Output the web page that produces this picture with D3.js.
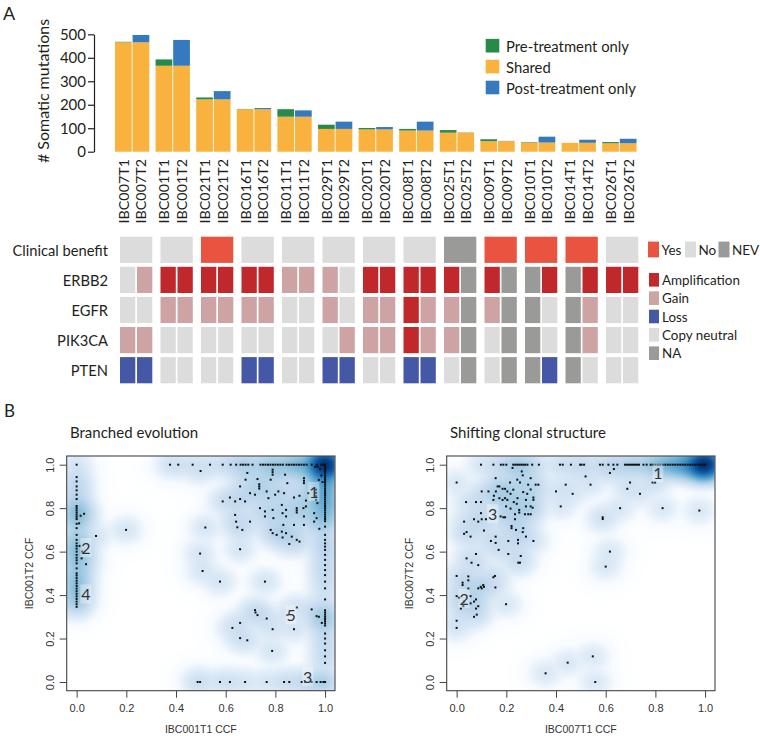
<!DOCTYPE html>
<html><head><meta charset="utf-8">
<script src="https://cdn.jsdelivr.net/npm/d3@7"></script>
<style>body{margin:0;background:#fff}svg{display:block}</style>
</head><body>
<svg id="chart" width="760" height="736"></svg>
<script>
// ---------------- DATA ----------------
const groups = ["IBC007","IBC001","IBC021","IBC016","IBC011","IBC029","IBC020","IBC008","IBC025","IBC009","IBC010","IBC014","IBC026"];
const timepoints = ["T1","T2"];
const sharedCounts   = [466,366,223,181,149,97,95,90,81,45,39,38,36];
const preOnlyCounts  = [2,27,8,1,32,18,6,7,11,8,2,0,5];
const postOnlyCounts = [31,110,35,5,27,31,10,38,1,1,25,13,19];
const yTicks = [0,100,200,300,400,500];
const barSeries = ["Pre-treatment only","Shared","Post-treatment only"];
const barColors = ["#27894a","#f8b23d","#3579bf"];

const rowNames = ["Clinical benefit","ERBB2","EGFR","PIK3CA","PTEN"];
const clinicalBenefit = ["No","No","Yes","No","No","No","No","No","NEV","Yes","Yes","Yes","No"];
const erbb2  = ["Neutral","Gain","Amp","Amp","Amp","Amp","Amp","Amp","Gain","Gain","Gain","Neutral","Amp","Amp","Amp","Amp","Amp","NA","Amp","NA","NA","Amp","NA","Amp","Amp","Amp"];
const egfr   = ["Neutral","Neutral","Gain","Gain","Gain","Gain","Gain","Gain","Neutral","Neutral","Gain","Neutral","Gain","Gain","Amp","Gain","Gain","NA","Gain","NA","NA","Neutral","NA","Gain","Neutral","Neutral"];
const pik3ca = ["Gain","Gain","Neutral","Neutral","Neutral","Neutral","Neutral","Neutral","Neutral","Neutral","Neutral","Gain","Gain","Gain","Amp","Gain","Gain","NA","Neutral","NA","NA","Neutral","NA","Gain","Neutral","Neutral"];
const pten   = ["Loss","Loss","Neutral","Neutral","Neutral","Neutral","Loss","Loss","Neutral","Neutral","Loss","Loss","Neutral","Neutral","Loss","Loss","Neutral","NA","Neutral","NA","NA","Loss","NA","Neutral","Neutral","Neutral"];
const benefitKeys = ["Yes","No","NEV"];
const benefitColors = ["#e8543f","#dcdcdc","#9a9a98"];
const cnKeys = ["Amp","Gain","Loss","Neutral","NA"];
const cnLabels = ["Amplification","Gain","Loss","Copy neutral","NA"];
const cnColors = ["#c0282b","#cea3a4","#4458a6","#dcdcdc","#9a9a98"];

// Panel B: [x CCF, y CCF, (overlapping mutations)]
const branchedPoints = [
[0,1],[0.376,1],[0.409,1],[0.467,1],[0.537,1],[0.588,1],[0.62,1],[0.642,1],[0.66,1],[0.67,1],[0.68,1],[0.691,1],[0.708,1],
[0.74,1],[0.75,1],[0.76,1],[0.77,1],[0.78,1],[0.79,1],[0.8,1],[0.81,1],[0.82,1],[0.83,1],[0.845,1],[0.855,1,2],[0.865,1,2],[0.875,1,2],[0.885,1,2],[0.895,1,2],[0.905,1,3],[0.915,1,3],[0.926,1,3],[0.946,1,4],[0.966,1,5],[0.985,1,6],[0.993,1,8],[1,1,200],
[0,0.943],[0,0.923],[0,0.9],[0,0.882],[0,0.862],[0,0.842],[0,0.81,2],[0,0.8,2],[0,0.79,2],[0,0.78,2],[0,0.77,2],[0,0.76,2],[0,0.75,2],[0,0.728],[0,0.708],[0,0.677,2],[0,0.654,2],[0,0.638,2],[0,0.626,2],[0,0.614,2],[0,0.6,2],[0,0.585,2],[0,0.572,2],[0,0.56,2],[0,0.546,2],[0,0.523,2],[0,0.5,2],[0,0.49,2],[0,0.478,2],[0,0.466,2],[0,0.454,2],[0,0.442,2],[0,0.43,2],[0,0.418,2],[0,0.406,2],[0,0.394,2],[0,0.382,2],[0,0.37,2],[0,0.358],[0,0.346],
[0.016,0.765],[0.03,0.774],[0.078,0.672],[0.199,0.7],[0.01,0.73],[0.012,0.626],[0.02,0.569],[0.038,0.542],[0.022,0.6],
[0.499,0.971],[0.588,0.831],[0.497,0.591],[0.507,0.511],[0.518,0.711],[0.577,0.462],[0.658,0.611],[0.758,0.462],
[0.617,0.849],[0.638,0.831],[0.638,0.769],[0.642,0.738],[0.647,0.712],[0.658,0.842],[0.658,0.9],[0.667,0.7],[0.678,0.831],[0.68,0.931],[0.687,0.962],[0.698,0.869],[0.698,0.738],[0.718,0.862],[0.728,0.934],[0.735,0.91],[0.735,0.9],[0.735,0.89],[0.738,0.8],[0.758,0.785],[0.758,0.762],[0.765,0.877],[0.772,0.846],[0.781,0.931],[0.781,0.7],[0.789,0.685],[0.789,0.792],[0.792,0.754],[0.799,0.862],[0.789,0.977],[0.789,0.966],[0.789,0.954],[0.805,0.677],[0.812,0.877],[0.826,0.815],[0.829,0.777],[0.826,0.692],[0.829,0.665],[0.832,0.723],[0.835,0.869],[0.839,0.954],[0.843,0.685],[0.843,0.792],[0.843,0.762],[0.856,0.635],[0.848,0.915],[0.866,0.669],[0.875,0.723],[0.875,0.849],[0.886,0.8],[0.886,0.79],[0.886,0.78],[0.886,0.654],[0.897,0.857],[0.897,0.646],[0.915,0.938],[0.915,0.926],[0.915,0.915],[0.913,0.8],[0.915,0.723],[0.923,0.835],[0.923,0.808],[0.933,0.869],[0.915,0.762],[0.956,0.777],[0.956,0.738],[0.966,0.754],[0.969,0.823],[0.964,0.885],[0.964,0.87],[0.964,0.855],[0.964,0.838],[0.977,0.705],[0.96,0.99],[0.97,0.99],[0.98,0.98],[0.985,0.95],[0.975,0.93],[0.99,0.92],
[1,0.99,8],[1,0.98,6],[1,0.97,5],[1,0.96,5],[1,0.95,4],[1,0.94,4],[1,0.93,4],[1,0.92,4],[1,0.91,4],[1,0.9,4],[1,0.89,3],[1,0.88,3],[1,0.87,3],[1,0.86,3],[1,0.85,3],[1,0.84,3],[1,0.83,3],[1,0.82,3],[1,0.81,3],[1,0.8,3],[1,0.79,2],[1,0.78,2],[1,0.77,2],[1,0.76,2],[1,0.75,2],[1,0.74,2],
[1,0.715],[1,0.677],[1,0.654],[1,0.638],[1,0.623],[1,0.608],[1,0.585],[1,0.562],[1,0.538],[1,0.515],[1,0.492],[1,0.462],[1,0.431],[1,0.38],[1,0.33],[1,0.32],[1,0.31],[1,0.3],[1,0.29],[1,0.28],[1,0.27],[1,0.26],[1,0.223],[1,0.2],[1,0.177],[1,0.146],[1,0.118],[1,0.088],[1,0,3],
[0.487,0],[0.497,0],[0.577,0],[0.617,0],[0.678,0],[0.765,0],[0.835,0],[0.856,0],[0.906,0],[0.919,0],[0.946,0],[0.966,0],[0.982,0],[0.993,0],
[0.718,0.331],[0.728,0.308],[0.72,0.32],[0.765,0.292],[0.627,0.249],[0.658,0.272],[0.658,0.202],[0.687,0.192],[0.789,0.243],[0.787,0.143],[0.875,0.243],[0.848,0.308],[0.886,0.343],[0.946,0.334],[0.966,0.303],[0.975,0.3],[0.987,0.272]
];
const branchedLabels = [["1",0.955,0.877],["2",0.037,0.619],["4",0.037,0.405],["5",0.863,0.31],["3",0.93,0.026]];

const shiftingPoints = [
[0.098,1],[0.148,1],[0.178,1],[0.188,1],[0.2,1],[0.228,1],[0.236,1],[0.244,1],[0.252,1],[0.26,1],[0.268,1],[0.276,1],[0.285,1],[0.304,1],[0.331,1],[0.416,1],[0.427,1],[0.46,1],[0.497,1],[0.503,1],[0.513,1],[0.577,1],[0.588,1],[0.611,1],[0.631,1],[0.647,1],[0.678,1],[0.686,1],[0.694,1],[0.702,1],[0.71,1],[0.718,1],[0.726,1],[0.734,1],[0.752,1],[0.765,1],[0.781,1,2],[0.79,1,2],[0.8,1,2],[0.81,1,3],[0.82,1,3],[0.83,1,3],[0.84,1,3],[0.85,1,4],[0.86,1,4],[0.87,1,4],[0.88,1,5],[0.89,1,5],[0.9,1,6],[0.91,1,6],[0.92,1,7],[0.93,1,8],[0.94,1,9],[0.95,1,10],[0.96,1,12],[0.97,1,14],[0.98,1,16],[0.99,1,20],[1,1,260],
[0,0.918],[0,0.488],[0,0.395],[0,0.282],[0,0.249],[0.01,0.388],[0.017,0.338],[0.027,0.349],[0.03,0.37],[0.024,0.457],[0.024,0.446],[0.03,0.738],[0.03,0.682],[0.04,0.69],[0.038,0.828],[0.04,0.569],[0.047,0.43],[0.047,0.468],[0.047,0.486],[0.056,0.395],[0.056,0.362],[0.056,0.669],[0.06,0.549],[0.07,0.749],[0.07,0.3],[0.07,0.37],[0.078,0.828],[0.078,0.589],[0.078,0.338],[0.081,0.31],[0.078,0.38],[0.087,0.349],[0.087,0.538],[0.087,0.738],[0.087,0.431],[0.097,0.438],[0.101,0.431],[0.107,0.446],[0.11,0.438],[0.098,0.828],[0.098,0.777],[0.101,0.877],[0.101,0.749],[0.11,0.697],[0.118,0.749],[0.128,0.877],[0.138,0.649],[0.148,0.482],[0.154,0.488],[0.156,0.435],[0.148,0.838],[0.15,0.857],[0.157,0.938],[0.157,0.669],[0.157,0.64],[0.158,0.877],[0.169,0.608],[0.165,0.9],[0.172,0.9],[0.172,0.846],[0.177,0.762],[0.185,0.889],[0.195,0.889],[0.204,0.877],[0.185,0.838],[0.195,0.846],[0.204,0.838],[0.188,0.758],[0.195,0.758],[0.199,0.808],[0.199,0.358],[0.208,0.649],[0.208,0.589],[0.215,0.918],[0.217,0.866],[0.217,0.798],[0.221,0.718],[0.221,0.708],[0.225,0.985],[0.228,0.885],[0.23,0.828],[0.235,0.772],[0.235,0.749],[0.239,0.7],[0.242,0.82],[0.244,0.931],[0.245,0.846],[0.247,0.654],[0.247,0.638],[0.248,0.549],[0.255,0.549],[0.258,0.58],[0.252,0.78],[0.252,0.792],[0.255,0.918],[0.262,0.969],[0.266,0.951],[0.268,0.874],[0.268,0.708],[0.266,0.69],[0.279,0.808],[0.275,0.772],[0.279,0.669],[0.279,0.838],[0.288,0.908],[0.284,0.866],[0.288,0.772],[0.298,0.938],[0.298,0.886],[0.298,0.808],[0.298,0.772],[0.309,0.838],[0.309,0.849],[0.306,0.802],[0.309,0.649],[0.318,0.908],[0.329,0.908],
[0.4,0.877],[0.419,0.808],[0.439,0.908],[0.467,0.866],[0.519,0.946],[0.539,0.908],[0.588,0.758],[0.588,0.75],[0.617,0.962],[0.633,0.98],[0.658,0.8],[0.617,0.6],[0.6,0.531],[0.687,0.889],[0.698,0.918],[0.738,0.866],[0.789,0.918],[0.799,0.918],[0.829,0.8],[0.977,0.789],
[0.358,0.04],[0.447,0.089],[0.548,0.118],[0.558,0]
];
const shiftingLabels = [["1",0.81,0.962],["2",0.03,0.385],["3",0.145,0.774]];
const ccfTicks = [0,0.2,0.4,0.6,0.8,1.0];

// ---------------- DRAW ----------------
const svg = d3.select("#chart");
const FONT = "Lato, 'Open Sans', sans-serif";
const RFONT = "'Liberation Sans', Arial, sans-serif";
const INK = "#231f20";

svg.append("text").attr("x",3).attr("y",20).attr("font-family",FONT).attr("font-size",18).attr("fill",INK).text("A");
svg.append("text").attr("x",4).attr("y",417).attr("font-family",FONT).attr("font-size",17).attr("fill",INK).text("B");

// --- bars
const xg = d3.scaleBand().domain(groups).range([115,636.5]).paddingInner(0.155).paddingOuter(0);
const xs = d3.scaleBand().domain(timepoints).range([0,xg.bandwidth()]).paddingInner(0.05);
const y = d3.scaleLinear().domain([0,500]).range([151.7,34.3]);

const barData = [];
groups.forEach((g,i)=>{
  const sh = sharedCounts[i];
  barData.push({g,t:"T1",y0:0,y1:sh,c:barColors[1]});
  barData.push({g,t:"T1",y0:sh,y1:sh+preOnlyCounts[i],c:barColors[0]});
  barData.push({g,t:"T2",y0:0,y1:sh,c:barColors[1]});
  barData.push({g,t:"T2",y0:sh,y1:sh+postOnlyCounts[i],c:barColors[2]});
});
svg.append("g").selectAll("rect").data(barData.filter(d=>d.y1>d.y0)).join("rect")
  .attr("x",d=>xg(d.g)+xs(d.t)).attr("width",xs.bandwidth())
  .attr("y",d=>y(d.y1)).attr("height",d=>y(d.y0)-y(d.y1)).attr("fill",d=>d.c);

const yAx = svg.append("g").attr("transform","translate(94,0)")
  .call(d3.axisLeft(y).tickValues(yTicks).tickSize(6).tickSizeOuter(0).tickPadding(2));
yAx.selectAll("path,line").attr("stroke",INK).attr("stroke-width",1.2);
yAx.selectAll("text").attr("font-family",FONT).attr("font-size",15).attr("fill",INK);
svg.append("text").attr("transform","translate(49,91) rotate(-90)").attr("text-anchor","middle")
  .attr("font-family",FONT).attr("font-size",16).attr("fill",INK).text("# Somatic mutations");

const samples = [];
groups.forEach(g=>timepoints.forEach(t=>samples.push({g,t})));
svg.append("g").selectAll("text").data(samples).join("text")
  .attr("transform",d=>`translate(${xg(d.g)+xs(d.t)+xs.bandwidth()/2},159) rotate(-90)`)
  .attr("text-anchor","end").attr("dominant-baseline","central")
  .attr("font-family",FONT).attr("font-size",14.3).attr("fill",INK).text(d=>d.g+d.t);

// bar legend
const bl = svg.append("g");
barSeries.forEach((s,i)=>{
  const cy = 45.7 + i*20.9;
  bl.append("rect").attr("x",485.7).attr("y",cy-6.8).attr("width",13.6).attr("height",13.6).attr("fill",barColors[i]);
  bl.append("text").attr("x",506).attr("y",cy).attr("dominant-baseline","central")
    .attr("font-family",FONT).attr("font-size",14.8).attr("fill",INK).text(s);
});

// --- heatmap
const hg = d3.scaleBand().domain(groups).range([120,638.3]).paddingInner(0.2025).paddingOuter(0);
const hs = d3.scaleBand().domain(timepoints).range([0,hg.bandwidth()]).paddingInner(0.1);
const hy = d3.scaleBand().domain(rowNames).range([236.7,383.3]).paddingInner(0.13).paddingOuter(0);
const bColor = d3.scaleOrdinal().domain(benefitKeys).range(benefitColors);
const cnColor = d3.scaleOrdinal().domain(cnKeys).range(cnColors);

const hm = svg.append("g");
hm.selectAll("rect.cb").data(groups).join("rect").attr("class","cb")
  .attr("x",g=>hg(g)).attr("width",hg.bandwidth())
  .attr("y",hy("Clinical benefit")).attr("height",hy.bandwidth())
  .attr("fill",(g,i)=>bColor(clinicalBenefit[i]));
const cnRows = [["ERBB2",erbb2],["EGFR",egfr],["PIK3CA",pik3ca],["PTEN",pten]];
cnRows.forEach(([name,vals])=>{
  hm.append("g").selectAll("rect").data(samples).join("rect")
    .attr("x",d=>hg(d.g)+hs(d.t)).attr("width",hs.bandwidth())
    .attr("y",hy(name)).attr("height",hy.bandwidth())
    .attr("fill",(d,i)=>cnColor(vals[i]));
});
hm.selectAll("text.rl").data(rowNames).join("text").attr("class","rl")
  .attr("x",108).attr("y",r=>hy(r)+hy.bandwidth()/2).attr("text-anchor","end").attr("dominant-baseline","central")
  .attr("font-family",FONT).attr("font-size",14.7).attr("fill",INK).text(r=>r);

// clinical legend
const benefitLegendX = [648,685,718.5];
benefitKeys.forEach((k,i)=>{
  const lx = benefitLegendX[i];
  hm.append("rect").attr("x",lx).attr("y",241.6).attr("width",11).attr("height",15.8).attr("fill",benefitColors[i]);
  hm.append("text").attr("x",lx+13.5).attr("y",249.5).attr("dominant-baseline","central")
    .attr("font-family",FONT).attr("font-size",13.5).attr("fill",INK).text(k);
});
cnKeys.forEach((k,i)=>{
  const cy = 279.8 + i*18.35;
  hm.append("rect").attr("x",649).attr("y",cy-6.8).attr("width",10).attr("height",13.6).attr("fill",cnColors[i]);
  hm.append("text").attr("x",662).attr("y",cy).attr("dominant-baseline","central")
    .attr("font-family",FONT).attr("font-size",13.4).attr("fill",INK).text(cnLabels[i]);
});

// --- scatter panels
const rampColors = ["#FFFFFF","#F7FBFF","#DEEBF7","#C6DBEF","#9ECAE1","#6BAED6","#4292C6","#2171B5","#08519C","#08306B"];
const ramp = d3.piecewise(d3.interpolateRgb, rampColors);
const lut = d3.range(256).map(i=>d3.rgb(ramp(i/255)));

function scatterPanel(cfg){
  const {x0,x1,y0,y1,pts,labels,title,xTitle,yTitle,bw} = cfg;
  const sx = d3.scaleLinear().domain([-0.04,1.04]).range([x0,x1]);
  const sy = d3.scaleLinear().domain([-0.04,1.04]).range([y1,y0]);
  const g = svg.append("g");
  const Wp = Math.round(x1-x0), Hp = Math.round(y1-y0);
  const canvas = document.createElement("canvas"); canvas.width=Wp; canvas.height=Hp;
  const ctx = canvas.getContext("2d"); const img = ctx.createImageData(Wp,Hp);
  const dens = new Float64Array(Wp*Hp);
  const kx = new Float64Array(Wp), ky = new Float64Array(Hp);
  const gx = d3.range(Wp).map(i=>sx.invert(x0+i+0.5));
  const gy = d3.range(Hp).map(j=>sy.invert(y0+j+0.5));
  pts.forEach(p=>{
    const w = p[2]||1;
    for(let i=0;i<Wp;i++){const v=(gx[i]-p[0])/bw; kx[i]=Math.exp(-0.5*v*v);}
    for(let j=0;j<Hp;j++){const v=(gy[j]-p[1])/bw; ky[j]=w*Math.exp(-0.5*v*v);}
    for(let j=0;j<Hp;j++){const kj=ky[j]; if(kj<1e-12) continue; const off=j*Wp; for(let i=0;i<Wp;i++) dens[off+i]+=kj*kx[i];}
  });
  const mx = d3.max(dens);
  for(let k=0;k<dens.length;k++){
    const c = lut[Math.min(255,Math.round(Math.pow(dens[k]/mx,0.25)*255))];
    img.data[4*k]=c.r; img.data[4*k+1]=c.g; img.data[4*k+2]=c.b; img.data[4*k+3]=255;
  }
  ctx.putImageData(img,0,0);
  g.append("image").attr("x",x0).attr("y",y0).attr("width",Wp).attr("height",Hp)
    .attr("preserveAspectRatio","none").attr("href",canvas.toDataURL());
  g.append("g").selectAll("rect").data(pts).join("rect")
    .attr("x",d=>sx(d[0])-1).attr("y",d=>sy(d[1])-1).attr("width",2).attr("height",2).attr("fill","#111");
  const lg = g.append("g");
  labels.forEach(([t,lxv,lyv])=>{
    lg.append("rect").attr("x",sx(lxv)-5.5).attr("y",sy(lyv)-9.5).attr("width",11).attr("height",19)
      .attr("fill","#fff").attr("fill-opacity",0.35);
    lg.append("text").attr("x",sx(lxv)).attr("y",sy(lyv)).attr("text-anchor","middle").attr("dominant-baseline","central")
      .attr("font-family",FONT).attr("font-size",16).attr("fill","#333").text(t);
  });
  g.append("rect").attr("x",x0).attr("y",y0).attr("width",x1-x0).attr("height",y1-y0)
    .attr("fill","none").attr("stroke","#444").attr("stroke-width",1.1);
  const ax = g.append("g").attr("transform",`translate(0,${y1})`)
    .call(d3.axisBottom(sx).tickValues(ccfTicks).tickSize(7).tickSizeOuter(0).tickFormat(d3.format(".1f")));
  ax.select(".domain").remove();
  ax.selectAll("line").attr("stroke","#444");
  ax.selectAll("text").attr("y",17).attr("dy",null).attr("dominant-baseline","central")
    .attr("font-family",RFONT).attr("font-size",11).attr("fill","#333");
  const ay = g.append("g").attr("transform",`translate(${x0},0)`)
    .call(d3.axisLeft(sy).tickValues(ccfTicks).tickSize(7).tickSizeOuter(0).tickFormat(d3.format(".1f")));
  ay.select(".domain").remove();
  ay.selectAll("line").attr("stroke","#444");
  ay.selectAll("text").attr("x",null).attr("dy",null)
    .attr("transform","translate(-16.5,0) rotate(-90)").attr("text-anchor","middle").attr("dominant-baseline","central")
    .attr("font-family",RFONT).attr("font-size",11).attr("fill","#333");
  g.append("text").attr("x",(x0+x1)/2).attr("y",729.3).attr("text-anchor","middle").attr("dominant-baseline","central")
    .attr("font-family",RFONT).attr("font-size",10.5).attr("fill","#333").text(xTitle);
  g.append("text").attr("transform",`translate(${x0-37.7},${(y0+y1)/2}) rotate(-90)`).attr("text-anchor","middle")
    .attr("dominant-baseline","central").attr("font-family",RFONT).attr("font-size",10.5).attr("fill","#333").text(yTitle);
  g.append("text").attr("x",x0+3.3).attr("y",437.5).attr("font-family",FONT).attr("font-size",15).attr("fill",INK).text(title);
}

scatterPanel({x0:66.7,x1:335,y0:456,y1:690.7,pts:branchedPoints,labels:branchedLabels,
  title:"Branched evolution",xTitle:"IBC001T1 CCF",yTitle:"IBC001T2 CCF",bw:0.032});
scatterPanel({x0:446.7,x1:715,y0:456,y1:690.7,pts:shiftingPoints,labels:shiftingLabels,
  title:"Shifting clonal structure",xTitle:"IBC007T1 CCF",yTitle:"IBC007T2 CCF",bw:0.032});
</script>
</body></html>
